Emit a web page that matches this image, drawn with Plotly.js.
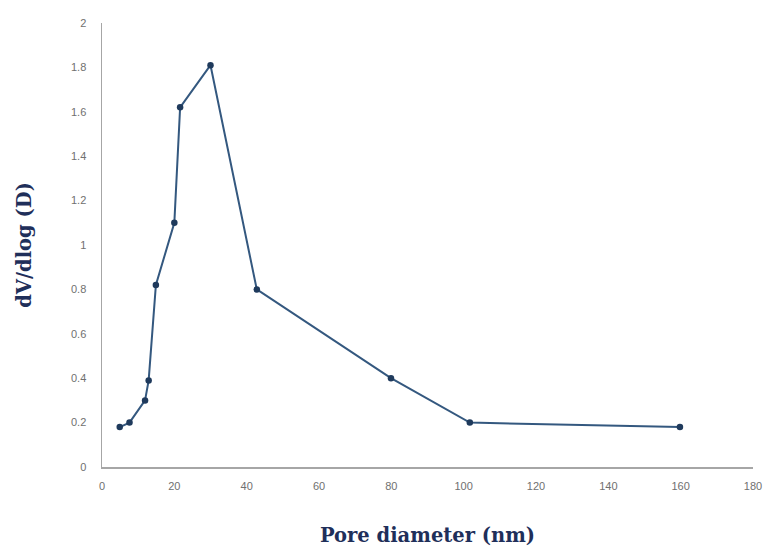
<!DOCTYPE html>
<html>
<head>
<meta charset="utf-8">
<script src="https://cdn.plot.ly/plotly-3.0.1.min.js"></script>
<style>html,body{margin:0;padding:0;background:#fff;}#chart{width:763px;height:550px;}</style>
</head>
<body>
<div id="chart"></div>
<script>
var poreDiameter = [4.9, 7.6, 11.9, 12.9, 14.9, 20.0, 21.6, 30.0, 42.8, 79.9, 101.7, 159.8];
var dVdlogD = [0.18, 0.20, 0.30, 0.39, 0.82, 1.10, 1.62, 1.81, 0.80, 0.40, 0.20, 0.18];
var xTitle = "Pore diameter (nm)";
var yTitle = "dV/dlog (D)";

var trace = {
  x: poreDiameter,
  y: dVdlogD,
  type: "scatter",
  mode: "lines+markers",
  line: {color: "#34587f", width: 2},
  marker: {color: "#1f3a5c", size: 6.5},
  hoverinfo: "x+y"
};

var layout = {
  width: 763,
  height: 550,
  margin: {l: 102, r: 10, t: 23, b: 83},
  paper_bgcolor: "#fff",
  plot_bgcolor: "#fff",
  showlegend: false,
  xaxis: {
    range: [0, 180],
    dtick: 20,
    tick0: 0,
    showgrid: false,
    zeroline: false,
    showline: true,
    linecolor: "#a6a6a6",
    linewidth: 1.5,
    ticks: "",
    ticklabelstandoff: 8,
    tickfont: {family: "Liberation Sans, Arial, sans-serif", size: 11, color: "#707070"},
    title: {text: xTitle, standoff: 37, font: {family: "DejaVu Serif, serif", size: 19.5, color: "#1f2f5a", weight: "bold"}}
  },
  yaxis: {
    range: [0, 2],
    dtick: 0.2,
    tick0: 0,
    showgrid: false,
    zeroline: false,
    showline: true,
    linecolor: "#a6a6a6",
    linewidth: 1.5,
    ticks: "",
    ticklabelstandoff: 12,
    tickfont: {family: "Liberation Sans, Arial, sans-serif", size: 11, color: "#707070"},
    title: {text: yTitle, standoff: 34, font: {family: "DejaVu Serif, serif", size: 19.5, color: "#1f2f5a", weight: "bold"}}
  }
};

Plotly.newPlot("chart", [trace], layout, {displayModeBar: false, staticPlot: true});
</script>
</body>
</html>
